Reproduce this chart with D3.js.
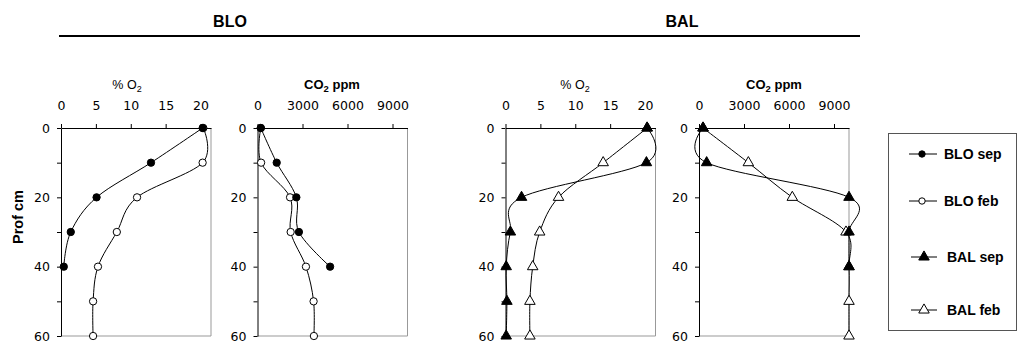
<!DOCTYPE html>
<html>
<head>
<meta charset="utf-8">
<script src="https://cdn.jsdelivr.net/npm/d3@7"></script>
<style>
  body { margin: 0; background: #fff; }
  svg { display: block; }
  .tick text { font-family: "DejaVu Sans", sans-serif; font-size: 12.5px; fill: #000; }
  .tick line { stroke: #000; }
  .domain { stroke: #000; }
</style>
</head>
<body>
<svg width="1019" height="343"></svg>
<script>
// depths (cm)
var depths = [0, 10, 20, 30, 40, 50, 60];

// O2 (%) values
var bloSepO2 = [20.3, 12.9, 5.1, 1.4, 0.4];
var bloFebO2 = [20.4, 20.3, 10.9, 8.0, 5.3, 4.6, 4.6];
var balSepO2 = [20.3, 20.2, 2.3, 0.7, 0.1, 0.2, 0.1];
var balFebO2 = [20.3, 14.0, 7.6, 4.9, 3.9, 3.5, 3.5];

// CO2 (ppm) values
var bloSepCO2 = [220, 1280, 2590, 2760, 4840];
var bloFebCO2 = [220, 240, 2170, 2210, 3230, 3740, 3760];
var balSepCO2 = [270, 510, 10000, 10000, 10000];
var balFebCO2 = [270, 3290, 6220, 9800, 10000, 10000, 10000];

var o2Ticks = [0, 5, 10, 15, 20];
var co2Ticks = [0, 3000, 6000, 9000];
var depthTicks = [0, 10, 20, 30, 40, 50, 60];

var svg = d3.select("svg");

var y = d3.scaleLinear().domain([0, 60]).range([128, 336]);

function toPoints(vals) {
  return vals.map(function(v, i) { return { v: v, d: depths[i] }; });
}

// the four panels
var panels = [
  { left: 61, dom: [0, 21.5], ticks: o2Ticks, title: "o2", tx: 127,
    series: [{ vals: bloSepO2, m: "circle", fill: "#000" }, { vals: bloFebO2, m: "circle", fill: "#fff" }] },
  { left: 257.5, dom: [0, 10000], ticks: co2Ticks, title: "co2", tx: 332,
    series: [{ vals: bloSepCO2, m: "circle", fill: "#000" }, { vals: bloFebCO2, m: "circle", fill: "#fff" }] },
  { left: 505.5, dom: [0, 21.5], ticks: o2Ticks, title: "o2", tx: 575,
    series: [{ vals: balSepO2, m: "triangle", fill: "#000" }, { vals: balFebO2, m: "triangle", fill: "#fff" }] },
  { left: 699, dom: [0, 10000], ticks: co2Ticks, title: "co2", tx: 774,
    series: [{ vals: balSepCO2, m: "triangle", fill: "#000" }, { vals: balFebCO2, m: "triangle", fill: "#fff" }] }
];

var pw = 150;

panels.forEach(function(p) {
  var x = d3.scaleLinear().domain(p.dom).range([p.left, p.left + pw]);
  var g = svg.append("g");

  // gray frame on right and bottom
  g.append("line").attr("x1", p.left + pw).attr("x2", p.left + pw)
    .attr("y1", y(0)).attr("y2", y(60)).attr("stroke", "#999");
  g.append("line").attr("x1", p.left).attr("x2", p.left + pw)
    .attr("y1", y(60)).attr("y2", y(60)).attr("stroke", "#999");

  g.append("g").attr("transform", "translate(0," + y(0) + ")")
    .call(d3.axisTop(x).tickValues(p.ticks).tickSize(4).tickSizeOuter(0).tickPadding(14)
      .tickFormat(d3.format("d")))
    .call(function(a) { a.selectAll(".tick text").attr("dy", "0"); });

  g.append("g").attr("transform", "translate(" + p.left + ",0)")
    .call(d3.axisLeft(y).tickValues(depthTicks).tickSize(4).tickSizeOuter(0).tickPadding(7)
      .tickFormat(function(d) { return d % 20 === 0 ? d : ""; }));

  g.selectAll(".domain").attr("stroke", "#000");

  // axis title
  var t = g.append("text").attr("x", p.tx).attr("y", 89).attr("text-anchor", "middle")
    .style("font-family", "Liberation Sans, Arial, sans-serif");
  if (p.title === "o2") {
    t.style("font-size", "12.5px");
    t.append("tspan").text("% O");
    t.append("tspan").attr("dy", 3).style("font-size", "9px").text("2");
  } else {
    t.style("font-size", "13px").style("font-weight", "bold");
    t.append("tspan").text("CO");
    t.append("tspan").attr("dy", 3).style("font-size", "9.5px").text("2");
    t.append("tspan").attr("dy", -3).text(" ppm");
  }

  // smoothed lines, like the spreadsheet's smoothing
  var line = d3.line()
    .x(function(d) { return x(d.v); })
    .y(function(d) { return y(d.d); })
    .curve(d3.curveCardinal.tension(0));

  p.series.forEach(function(s) {
    var pts = toPoints(s.vals);
    g.append("path").attr("d", line(pts)).attr("fill", "none")
      .attr("stroke", "#000").attr("stroke-width", 1);
  });
  // markers: open series first, filled on top
  p.series.slice().reverse().forEach(function(s) {
    var pts = toPoints(s.vals);
    var sym = d3.symbol().type(s.m === "circle" ? d3.symbolCircle : d3.symbolTriangle)
      .size(s.m === "circle" ? 42 : 48);
    g.selectAll(null).data(pts).enter().append("path")
      .attr("d", sym)
      .attr("transform", function(d) { return "translate(" + x(d.v) + "," + y(d.d) + ")"; })
      .attr("fill", s.fill).attr("stroke", "#000").attr("stroke-width", 1);
  });
});

// y axis title
svg.append("text")
  .attr("transform", "translate(23,217) rotate(-90)")
  .attr("text-anchor", "middle")
  .style("font-family", "Liberation Sans, Arial, sans-serif")
  .style("font-size", "14.5px").style("font-weight", "bold")
  .text("Prof cm");

// site titles and rule
svg.append("text").attr("x", 230).attr("y", 27).attr("text-anchor", "middle")
  .style("font-family", "Liberation Sans, Arial, sans-serif")
  .style("font-size", "16px").style("font-weight", "bold").text("BLO");
svg.append("text").attr("x", 682).attr("y", 27).attr("text-anchor", "middle")
  .style("font-family", "Liberation Sans, Arial, sans-serif")
  .style("font-size", "16px").style("font-weight", "bold").text("BAL");
svg.append("line").attr("x1", 59).attr("x2", 860).attr("y1", 36).attr("y2", 36)
  .attr("stroke", "#000").attr("stroke-width", 2);

// legend
var legendNames = ["BLO sep", "BLO feb", "BAL sep", "BAL feb"];
var legendMarks = ["circle", "circle", "triangle", "triangle"];
var legendFills = ["#000", "#fff", "#000", "#fff"];
var legendY = [154, 201, 257, 310];

svg.append("rect").attr("x", 888.5).attr("y", 133.5).attr("width", 128).attr("height", 197)
  .attr("fill", "none").attr("stroke", "#555");

legendNames.forEach(function(name, i) {
  var lx = i < 2 ? 909 : 911;
  svg.append("line").attr("x1", lx).attr("x2", 937).attr("y1", legendY[i]).attr("y2", legendY[i])
    .attr("stroke", "#000");
  var sym = d3.symbol().type(legendMarks[i] === "circle" ? d3.symbolCircle : d3.symbolTriangle)
    .size(legendMarks[i] === "circle" ? 32 : 48);
  svg.append("path").attr("d", sym)
    .attr("transform", "translate(" + (lx + 13) + "," + legendY[i] + ")")
    .attr("fill", legendFills[i]).attr("stroke", "#000");
  svg.append("text").attr("x", i < 2 ? 944 : 947).attr("y", legendY[i] + 5)
    .style("font-family", "Liberation Sans, Arial, sans-serif")
    .style("font-size", "14px").style("font-weight", "bold").text(name);
});
</script>
</body>
</html>
